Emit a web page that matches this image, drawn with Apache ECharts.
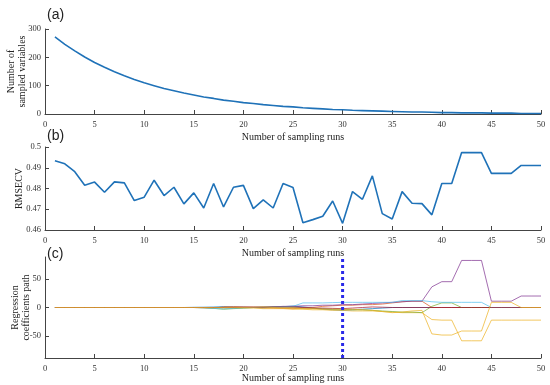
<!DOCTYPE html>
<html><head><meta charset="utf-8">
<script src="https://cdn.jsdelivr.net/npm/echarts@6/dist/echarts.min.js"></script>
<style>html,body{margin:0;padding:0;background:#fff}#c{width:550px;height:385px}</style>
</head><body><div id="c"></div>
<script>
const runs = [1,2,3,4,5,6,7,8,9,10,11,12,13,14,15,16,17,18,19,20,21,22,23,24,25,26,27,28,29,30,31,32,33,34,35,36,37,38,39,40,41,42,43,44,45,46,47,48,49,50];
const nSampled = [272,246,223,201,182,165,149,135,122,110,100,90,82,74,67,60,55,49,45,40,37,33,30,27,25,22,20,18,16,15,13,12,11,10,9,8,7,7,6,5,5,4,4,4,3,3,3,2,2,2];
const rmsecv = [0.4934,0.4919,0.4881,0.4816,0.4831,0.4782,0.4832,0.4827,0.4742,0.4758,0.4840,0.4766,0.4806,0.4726,0.4779,0.4706,0.4824,0.4711,0.4806,0.4815,0.4703,0.4745,0.4706,0.4824,0.4805,0.4635,0.4650,0.4666,0.4740,0.4632,0.4785,0.4748,0.4861,0.4679,0.4653,0.4785,0.4729,0.4727,0.4673,0.4824,0.4824,0.4973,0.4973,0.4973,0.4873,0.4873,0.4873,0.4911,0.4911,0.4911];
const coefBlue   = [0,0,0,0,0,0,0,0,0,0,0,0,0,0,0.3,0.5,0.8,1.5,1,0.5,0,-0.5,0.5,1.5,2.5,1,-1,-3,-4,-5,-4,-3,-2,-1,0,0,0,0,0,0,0,0,0,0,0,0,0,0,0,0];
const coefOrange = [0,0,0,0,0,0,0,0,0,0,0,0,0,0,0,-0.5,-1,1,1.5,1,0.5,-0.5,-1,-1.5,-2,-1,0,2,3,4,4,5,5,6,8,10,11,11,0,0,0,0,0,0,0,0,0,0,0,0];
const coefYellowA= [0,0,0,0,0,0,0,0,0,0,0,0,0,0,0,0,-0.5,-1,-1.5,-1,-1,-2,-2,-2,-3,-3,-4,-4,-5,-5,-6,-6,-6,-7,-8,-9,-9,-9,-21,-22,-22,-58,-58,-58,-22,-22,-22,-22,-22,-22];
const coefPurple = [0,0,0,0,0,0,0,0,0,0,0,0,0,0,0,0,0,0,0,0,0.5,1,1,2,2,3,3,4,4,5,5,6,7,8,9,10,11,11,36,45,45,82,82,82,11,11,11,20,20,20];
const coefGreen  = [0,0,0,0,0,0,0,0,0,0,0,0,0,0,0,-0.5,-1.5,-3,-2,-1,0,0.5,1,0.5,0,-1,-1.5,-2,-3,-3,-4,-4,-5,-6,-7,-8,-8,-9,2,8,8,0,0,0,0,0,0,0,0,0];
const coefCyan   = [0,0,0,0,0,0,0,0,0,0,0,0,0,0,0,-0.5,-1.5,-2.5,-1.5,-0.5,0,0.5,1,1.5,2,8,8,8,8.5,9,9,9,9,9,9,12,12,12,10,9,9,9,9,9,0,0,0,0,0,0];
const coefDarkRed= [0,0,0,0,0,0,0,0,0,0,0,0,0,0,0,0,0,0,0,0.5,0.5,0.5,1,1,1,0,-1,-1,-1.5,-2,-1,0,1,0.5,0,0,0,0,0,0,0,0,0,0,0,0,0,0,0,0];
const coefYellowB= [0,0,0,0,0,0,0,0,0,0,0,0,0,0,0,0,0,0,0,0,0.5,1,0,-1,-1,-2,-2,-3,-3,-3,-3,-4,-5,-7,-9,-8,-6,-5,-46,-48,-48,-41,-41,-41,9,9,9,0,0,0];
const optimalRun = 30;
const coefTicks = [-50, 0, 50];

const coefSeries = [
  ['#0072BD', coefBlue], ['#D95319', coefOrange], ['#EDB120', coefYellowA],
  ['#7E2F8E', coefPurple], ['#77AC30', coefGreen], ['#4DBEEE', coefCyan],
  ['#A2142F', coefDarkRed], ['#EDB120', coefYellowB]
];
const pair = arr => runs.map((r, i) => [r, arr[i]]);

const axisCol = '#444';
const tickFont = {fontFamily: 'Liberation Serif', fontSize: 8.5, color: '#333'};
const nameFont = {fontFamily: 'Liberation Serif', fontSize: 10, color: '#222'};

const grids = [
  {left: 45, top: 29, width: 496, height: 85, outerBoundsMode: 'none', containLabel: false},
  {left: 45, top: 147, width: 496, height: 83, outerBoundsMode: 'none', containLabel: false},
  {left: 45, top: 257, width: 496, height: 101, outerBoundsMode: 'none', containLabel: false}
];
const mkX = (i, gap) => ({
  type: 'value', gridIndex: i, min: 0, max: 50, interval: 5,
  axisLine: {onZero: false, lineStyle: {color: axisCol, width: 1}},
  axisTick: {inside: true, length: 4, lineStyle: {color: axisCol}},
  axisLabel: Object.assign({margin: 6, hideOverlap: false}, tickFont),
  splitLine: {show: false},
  name: 'Number of sampling runs', nameLocation: 'middle', nameGap: gap,
  nameMoveOverlap: false,
  nameTextStyle: nameFont
});
const yBase = {
  type: 'value',
  axisLine: {show: true, onZero: false, lineStyle: {color: axisCol, width: 1}},
  axisTick: {show: true, inside: true, length: 4, lineStyle: {color: axisCol}},
  axisLabel: Object.assign({margin: 4}, tickFont),
  splitLine: {show: false},
  nameMoveOverlap: false,
  nameLocation: 'middle', nameTextStyle: Object.assign({lineHeight: 11}, nameFont)
};

const series = [
  {type: 'line', xAxisIndex: 0, yAxisIndex: 0, data: pair(nSampled), showSymbol: false,
   smooth: false, lineStyle: {color: '#1f72b8', width: 1.6}, silent: true},
  {type: 'line', xAxisIndex: 1, yAxisIndex: 1, data: pair(rmsecv), showSymbol: false,
   lineStyle: {color: '#1f72b8', width: 1.6}, silent: true}
];
coefSeries.forEach(([col, arr]) => series.push({
  type: 'line', xAxisIndex: 2, yAxisIndex: 2, data: pair(arr), showSymbol: false,
  lineStyle: {color: col, width: 1, opacity: 0.7}, silent: true
}));
series.push({
  type: 'line', xAxisIndex: 2, yAxisIndex: 2, data: [[optimalRun, -88], [optimalRun, 88]],
  showSymbol: false, silent: true,
  lineStyle: {color: '#2a2ae8', width: 3, type: [3, 3]}
});

const chart = echarts.init(document.getElementById('c'), null, {renderer: 'canvas'});
chart.setOption({
  animation: false,
  backgroundColor: '#fff',
  title: [
    {text: '(a)', left: 42, top: 3, textStyle: {fontFamily: 'Liberation Sans', fontSize: 14, fontWeight: 'normal', color: '#222'}},
    {text: '(b)', left: 42, top: 124, textStyle: {fontFamily: 'Liberation Sans', fontSize: 14, fontWeight: 'normal', color: '#222'}},
    {text: '(c)', left: 42, top: 242, textStyle: {fontFamily: 'Liberation Sans', fontSize: 14, fontWeight: 'normal', color: '#222'}}
  ],
  grid: grids,
  xAxis: [mkX(0, 18), mkX(1, 18), mkX(2, 15)],
  yAxis: [
    Object.assign({}, yBase, {gridIndex: 0, min: 0, max: 300, interval: 100,
      name: 'Number of\nsampled variables', nameGap: 17}),
    Object.assign({}, yBase, {gridIndex: 1, min: 0.46, max: 0.5, interval: 0.01,
      name: 'RMSECV', nameGap: 20}),
    Object.assign({}, yBase, {gridIndex: 2, min: -88, max: 88,
      axisTick: Object.assign({}, yBase.axisTick, {customValues: coefTicks}),
      axisLabel: Object.assign({}, yBase.axisLabel, {customValues: coefTicks}),
      name: 'Regression\ncoefficients path', nameGap: 13})
  ],
  series: series
});
</script></body></html>
